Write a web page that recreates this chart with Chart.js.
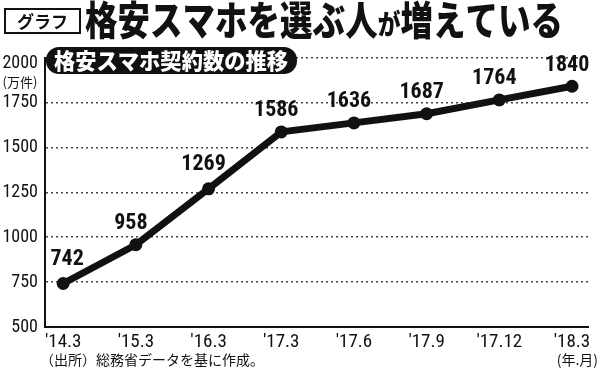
<!DOCTYPE html>
<html><head><meta charset="utf-8">
<script src="https://cdn.jsdelivr.net/npm/chart.js@4"></script>
<style>html,body{margin:0;padding:0;background:#fff;}canvas{display:block;}</style>
</head><body>
<canvas id="c" width="600" height="373"></canvas>
<script>
const categories = ["'14.3", "'15.3", "'16.3", "'17.3", "'17.6", "'17.9", "'17.12", "'18.3"];
const contracts = [742, 958, 1269, 1586, 1636, 1687, 1764, 1840];
const yTicks = [500, 750, 1000, 1250, 1500, 1750, 2000];
const titleMain = ["格安スマホを選ぶ人", "が", "増えている"];
const tagText = "グラフ";
const subTitle = "格安スマホ契約数の推移";
const unitText = "(万件)";
const sourceText = "（出所）総務省データを基に作成。";
const xUnitText = "(年.月)";

const NARROW = "'Roboto Condensed', 'Liberation Sans', sans-serif";
const JP = "'Noto Sans CJK JP', sans-serif";

const decor = {
  id: 'decor',
  beforeDraw(chart) {
    const ctx = chart.ctx;
    ctx.save();
    ctx.fillStyle = '#fff';
    ctx.fillRect(0, 0, chart.width, chart.height);
    ctx.restore();
  },
  afterDatasetsDraw(chart) {
    const ctx = chart.ctx;
    const meta = chart.getDatasetMeta(0);
    ctx.save();
    ctx.fillStyle = '#111';
    ctx.font = "bold 22px " + NARROW;
    ctx.textAlign = 'center';
    ctx.textBaseline = 'middle';
    meta.data.forEach((pt, i) => {
      const dx = i === 0 ? 4 : -5;
      const dy = i === 0 || i === 2 ? 24 : 21;
      ctx.fillText(String(contracts[i]), pt.x + dx, pt.y - dy);
    });
    ctx.restore();
  },
  afterDraw(chart) {
    const ctx = chart.ctx;
    ctx.save();
    // tag box
    ctx.strokeStyle = '#111';
    ctx.lineWidth = 2;
    ctx.strokeRect(5, 9, 75, 24);
    ctx.fillStyle = '#111';
    ctx.font = "bold 17px " + JP;
    ctx.textAlign = 'center';
    ctx.textBaseline = 'middle';
    ctx.fillText(tagText, 42.5, 21.5, 64);
    // main title
    const big = "900 40px " + JP, small = "900 28px " + JP;
    ctx.font = big; const w1 = ctx.measureText(titleMain[0]).width; const w3 = ctx.measureText(titleMain[2]).width;
    ctx.font = small; const w2 = ctx.measureText(titleMain[1]).width;
    const total = w1 + w2 + w3;
    const target = 563 - 85;
    const sx = target / total;
    ctx.translate(85, 0);
    ctx.scale(sx, 1);
    ctx.textAlign = 'left';
    ctx.textBaseline = 'alphabetic';
    ctx.font = big; ctx.fillText(titleMain[0], 0, 35);
    ctx.font = small; ctx.fillText(titleMain[1], w1, 35);
    ctx.font = big; ctx.fillText(titleMain[2], w1 + w2, 35);
    ctx.restore();

    ctx.save();
    // subtitle pill
    ctx.fillStyle = '#111';
    ctx.beginPath();
    ctx.roundRect(46, 47, 251, 27, 13);
    ctx.fill();
    ctx.fillStyle = '#fff';
    ctx.font = "900 22px " + JP;
    ctx.textAlign = 'center';
    ctx.textBaseline = 'middle';
    ctx.fillText(subTitle, 171, 61, 234);
    // unit
    ctx.fillStyle = '#111';
    ctx.font = "13px " + JP;
    ctx.textAlign = 'center';
    ctx.fillText(unitText, 20, 82);
    // source
    ctx.font = "14px " + JP;
    ctx.textAlign = 'left';
    ctx.fillText(sourceText, 40, 360, 228);
    ctx.textAlign = 'right';
    ctx.fillText(xUnitText, 598, 360);
    ctx.restore();
  }
};

new Chart(document.getElementById('c'), {
  type: 'line',
  data: {
    datasets: [{
      data: categories.map((c, i) => ({ x: i, y: contracts[i] })),
      borderColor: '#111',
      backgroundColor: '#111',
      borderWidth: 7,
      pointRadius: 6.5,
      pointBorderWidth: 0,
      pointBackgroundColor: '#111',
      borderJoinStyle: 'round',
      borderCapStyle: 'round',
      tension: 0
    }]
  },
  options: {
    responsive: false,
    animation: false,
    devicePixelRatio: 1,
    layout: { padding: { top: 57.5, right: 12, bottom: 22, left: 0 } },
    plugins: { legend: { display: false }, tooltip: { enabled: false }, title: { display: false } },
    scales: {
      x: {
        type: 'linear',
        min: -0.25,
        max: 7.22,
        afterBuildTicks: s => { s.ticks = categories.map((_, i) => ({ value: i })); },
        afterFit: s => { s.height = 24; },
        grid: { display: false, drawTicks: false },
        border: { display: true, color: '#111', width: 2 },
        ticks: {
          autoSkip: false,
          maxRotation: 0,
          padding: 4,
          color: '#111',
          font: { family: NARROW, size: 19 },
          callback: v => categories[v] ?? ''
        }
      },
      y: {
        min: 500,
        max: 2000,
        afterBuildTicks: s => { s.ticks = yTicks.map(v => ({ value: v })); },
        afterFit: s => { s.width = 45; },
        grid: { color: '#444', lineWidth: 1.4, drawTicks: false },
        border: { display: true, color: '#111', width: 2, dash: [2, 3] },
        ticks: {
          padding: 7,
          color: '#111',
          font: { family: NARROW, size: 18, lineHeight: 0.72 },
          callback: v => v === 2000 ? ['', '2000'] : String(v)
        }
      }
    }
  },
  plugins: [decor]
});
</script>
</body></html>
